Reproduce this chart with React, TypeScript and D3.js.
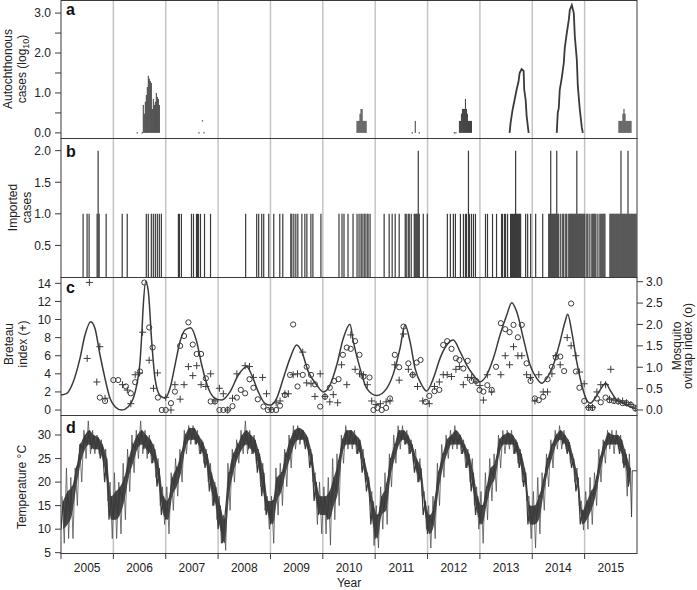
import React from "react";
import * as d3 from "d3";

// ---------------- data ----------------
const yearLabels = ["2005", "2006", "2007", "2008", "2009", "2010", "2011", "2012", "2013", "2014", "2015"];

// Panel a: autochthonous cases, log10, by week since 2005-01-01
const autoBars: [number, number][] = [
  [82, 0.7], [83, 0.48], [84, 0.78], [85, 0.95], [86, 1.15], [87, 1.43], [88, 1.36], [89, 1.3], [90, 1.25],
  [91, 0.6], [92, 0.85], [93, 0.7], [94, 0.78], [95, 1.0], [96, 0.9], [97, 0.85], [98, 0.7],
  [295, 0.3], [296, 0.3], [297, 0.3], [298, 0.48], [299, 0.6], [300, 0.6], [301, 0.3], [302, 0.3], [303, 0.3], [304, 0.3],
  [353, 0.3],
  [397, 0.3], [398, 0.3], [399, 0.48], [400, 0.6], [401, 0.6], [402, 0.6], [403, 0.85], [404, 0.6], [405, 0.48],
  [406, 0.3], [407, 0.3], [408, 0.3], [409, 0.3],
  [556, 0.3], [557, 0.3], [558, 0.3], [559, 0.3], [560, 0.48], [561, 0.6], [562, 0.48], [563, 0.3], [564, 0.3],
  [565, 0.3], [566, 0.3], [567, 0.3], [568, 0.3],
];
const autoDots: [number, number][] = [
  [76, 0], [81, 0], [137.5, 0], [141, 0.3], [142.5, 0], [350, 0], [357, 0], [392, 0], [393.5, 0],
];
const autoPeak2013: [number, number][] = [
  [447, 0], [448, 0.25], [450, 0.58], [452, 0.83], [454, 1.08], [456, 1.3], [457, 1.5], [459, 1.6],
  [461, 1.55], [461.6, 1.08], [463, 0.83], [464, 0.42], [466, 0],
];
const autoPeak2014: [number, number][] = [
  [494, 0], [495, 0.5], [496, 0.62], [497, 1.08], [499, 1.38], [501, 1.75], [502, 2.13], [504, 2.5],
  [506, 2.83], [507, 3.08], [509, 3.2], [511, 3.0], [512, 2.42], [514, 1.83], [515, 1.17], [517, 0.58],
  [519, 0.13], [520, 0],
];

// Panel b: imported cases by week since 2005-01-01
const importedOne: number[] = [
  22, 26, 28, 36, 38, 45, 61, 66, 85, 87, 90, 92, 94, 96, 98, 100, 117, 118, 120, 130, 132, 135, 136, 137, 139, 143, 149,
  184, 195, 197, 200, 202, 207, 212, 218, 221, 229, 230, 232, 234, 236, 240, 243, 245, 249, 251, 259,
  277, 280, 282, 286, 291, 295, 297, 299, 300, 302, 303, 305, 306, 308, 322, 327, 330, 333, 337,
  343, 344, 346, 347, 349, 352, 353, 354, 355, 357, 361, 365, 385, 388, 391, 393, 398, 401, 403, 404,
  407, 409, 411, 413, 423, 425, 430, 434, 439, 440, 442, 443, 445, 448, 449, 450, 451, 452, 454, 455,
  456, 457, 458, 463, 465, 468, 473, 480, 486, 487, 489, 490, 491, 492, 493, 495, 496, 498, 500, 501,
  503, 504, 506, 507, 508, 509, 510, 511, 512, 513, 515, 516, 517, 518, 519, 520, 521, 522, 524, 525,
  527, 529, 530, 531, 532, 533, 535, 537, 538, 539, 540, 541, 542, 547, 548, 549, 550, 551, 552, 553,
  554, 555, 556, 557, 559, 560, 561, 562, 563, 564, 566, 567, 568, 569, 570, 571, 572, 573,
];
const importedTwo: number[] = [37, 356, 406, 453, 488, 494, 514, 558, 565];

// Panel c: month index since Jan 2005
const breteau: [number, number][] = [
  [6.0, 5.7], [6.5, 14.1], [8.2, 3.1], [8.9, 7.0], [10.1, 1.3], [14.1, 2.8], [15.2, 2.2], [16.0, 0.7],
  [17.0, 3.9], [18.0, 4.1], [18.7, 8.6], [20.2, 5.5], [21.2, 2.4], [22.1, 4.1], [24.0, 1.4], [25.2, 0.0],
  [26.1, 2.8], [27.3, 1.2], [28.2, 2.8], [29.2, 4.8], [30.2, 3.8], [31.1, 4.9], [32.1, 2.8], [33.2, 2.6],
  [34.3, 4.0], [35.3, 1.0], [36.3, 2.4], [37.2, 1.8], [38.2, 0.0], [39.3, 1.3], [40.3, 4.0], [42.2, 4.9],
  [43.2, 4.8], [44.1, 3.6], [46.2, 3.6], [47.1, 1.8], [48.1, 0.1], [49.3, 0.8], [50.2, 1.0], [51.3, 1.8],
  [52.1, 1.8], [53.2, 3.9], [54.2, 4.0], [55.4, 6.4], [56.3, 3.0], [57.3, 2.9], [58.2, 1.5], [59.4, 4.0],
  [60.5, 1.5], [61.6, 0.9], [62.4, 1.7], [63.4, 0.8], [64.3, 5.0], [65.5, 2.8], [66.4, 8.3], [67.4, 4.5],
  [68.4, 4.0], [69.3, 3.9], [70.2, 2.8], [71.2, 1.0], [72.2, 0.6], [73.2, 0.7], [74.5, 0.9], [75.4, 1.0],
  [76.5, 5.0], [77.5, 3.3], [78.5, 8.4], [79.6, 4.5], [80.6, 3.9], [81.7, 2.6], [82.9, 1.0], [84.4, 0.7],
  [85.6, 2.6], [86.7, 3.1], [87.6, 3.9], [88.5, 3.9], [89.5, 3.7], [90.5, 4.5], [91.3, 4.8], [92.2, 2.8],
  [93.2, 3.6], [94.1, 3.6], [95.1, 3.1], [96.0, 2.7], [96.8, 1.1], [97.7, 3.9], [98.7, 2.0], [100.8, 3.9],
  [101.8, 6.0], [102.8, 5.0], [103.7, 7.0], [104.7, 6.0], [105.6, 6.0], [106.7, 3.9], [107.6, 3.6],
  [108.6, 1.0], [109.5, 3.9], [110.5, 2.0], [111.5, 2.0], [112.5, 4.0], [113.4, 6.0], [114.4, 5.0],
  [116.0, 8.0], [116.9, 7.1], [118.0, 6.0], [118.8, 4.2], [119.9, 2.9], [120.9, 0.3], [121.8, 0.3],
  [122.8, 2.0], [123.7, 2.8], [124.8, 2.8], [125.7, 1.2], [126.0, 4.5], [126.7, 1.1], [127.7, 1.0],
  [128.7, 1.0], [129.6, 0.8], [130.6, 0.6], [131.6, 0.2],
];
const ovitrap: [number, number][] = [
  [8.9, 0.29], [10.1, 0.21], [12.0, 0.7], [13.1, 0.7], [14.9, 0.55], [16.0, 0.39], [17.0, 0.65], [18.1, 0.9],
  [19.1, 2.98], [20.2, 1.93], [21.0, 1.46], [22.2, 0.29], [23.1, 0.0], [24.0, 0.0], [25.2, 0.16], [26.1, 0.43],
  [27.3, 1.5], [28.2, 1.73], [29.2, 2.05], [30.2, 1.53], [31.1, 1.31], [32.1, 1.31], [33.2, 0.74], [34.3, 0.2],
  [35.3, 0.2], [36.3, 0.0], [37.2, 0.0], [38.2, 0.0], [39.3, 0.09], [40.3, 0.29], [41.2, 0.47], [42.2, 0.39],
  [43.2, 0.72], [44.1, 0.52], [45.1, 0.25], [46.4, 0.08], [47.4, 0.0], [48.3, 0.0], [49.3, 0.0], [50.2, 0.1],
  [51.3, 0.35], [52.5, 0.82], [53.2, 2.0], [54.2, 0.55], [55.4, 0.82], [56.3, 1.01], [57.3, 0.82], [58.2, 0.6],
  [59.4, 0.08], [60.5, 0.31], [61.6, 0.52], [62.6, 0.68], [63.6, 0.72], [64.6, 1.29], [65.5, 1.46], [66.4, 1.43],
  [67.4, 1.61], [68.4, 1.29], [69.3, 0.78], [70.7, 0.76], [71.6, 0.0], [72.5, 0.05], [73.5, 0.0], [74.5, 0.05],
  [75.4, 0.27], [76.5, 1.29], [77.5, 1.0], [78.5, 1.95], [79.6, 1.09], [80.6, 0.82], [81.5, 1.11], [82.4, 1.17],
  [83.6, 0.19], [84.4, 0.33], [85.6, 0.44], [86.7, 0.47], [87.6, 1.52], [88.5, 1.61], [89.5, 1.43], [90.5, 1.21],
  [91.3, 1.17], [92.2, 0.97], [93.2, 1.15], [94.1, 0.68], [95.1, 0.68], [95.9, 0.47], [96.8, 0.43], [97.7, 0.58],
  [98.7, 0.47], [99.7, 1.01], [100.8, 2.03], [101.8, 1.89], [102.8, 1.82], [103.7, 1.99], [104.7, 1.7],
  [105.6, 1.99], [106.7, 1.09], [107.6, 0.68], [108.6, 0.27], [109.5, 0.23], [110.5, 0.31], [111.5, 0.72],
  [112.5, 1.01], [113.4, 1.23], [114.4, 1.25], [115.3, 0.91], [116.9, 2.49], [118.0, 0.9], [118.8, 0.52],
  [119.9, 0.21], [120.9, 0.05], [121.8, 0.05], [122.8, 0.27], [123.7, 0.18], [124.8, 0.29], [125.7, 0.23],
  [126.7, 0.21], [127.7, 0.2], [128.7, 0.16], [129.6, 0.16], [130.6, 0.12], [131.6, 0.04],
];
const breteauFit: [number, number][] = [
  [0, 1.66], [1.31, 1.84], [2.82, 3.13], [4.35, 5.71], [5.5, 8.29], [6.81, 9.76], [7.79, 9.02], [8.94, 6.08],
  [10.08, 3.5], [11.23, 1.29], [12.38, 0.37], [13.91, 0.0], [15.42, 0.37], [16.57, 1.29], [17.35, 2.76],
  [18.11, 5.34], [18.5, 8.29], [18.86, 11.6], [19.41, 14.2], [20.01, 13.1], [20.79, 7.55], [21.54, 3.5],
  [22.69, 1.6], [23.83, 1.3], [24.98, 2.4], [26.13, 4.97], [27.27, 7.55], [28.42, 8.84], [29.72, 9.1],
  [31.1, 7.55], [32.25, 4.97], [33.76, 2.4], [35.29, 1.29], [36.83, 1.1], [38.73, 2.0], [40.63, 3.87],
  [42.56, 4.79], [43.71, 3.87], [45.22, 2.0], [46.75, 0.74], [47.9, 0.55], [49.43, 1.29], [50.95, 3.5],
  [52.48, 5.71], [54.02, 7.18], [55.16, 6.45], [56.68, 4.24], [58.6, 2.76], [60.11, 2.0], [61.65, 2.76],
  [63.19, 4.97], [64.7, 7.92], [66.23, 9.47], [66.99, 7.55], [68.53, 4.6], [70.06, 2.4], [72.35, 1.6],
  [74.65, 2.4], [76.55, 4.6], [77.69, 6.82], [78.84, 9.4], [79.99, 7.55], [81.13, 4.6], [82.67, 2.76],
  [83.81, 2.1], [85.33, 3.5], [86.86, 5.71], [88.4, 7.18], [89.91, 7.73], [91.45, 6.45], [92.98, 4.97],
  [94.49, 3.87], [96.03, 3.13], [97.56, 3.87], [99.08, 5.71], [100.61, 8.29], [102.15, 10.5], [103.29, 11.86],
  [104.44, 10.86], [105.95, 7.92], [107.49, 4.97], [109.02, 3.5], [110.17, 2.95], [111.31, 3.5], [112.83, 4.97],
  [114.36, 7.55], [115.51, 9.76], [116.13, 10.57], [117.04, 8.66], [118.19, 5.34], [119.34, 2.76],
  [120.48, 1.1], [121.24, 0.74], [122.39, 1.29], [123.53, 2.2], [124.84, 2.95], [125.82, 2.2], [127.36, 1.1],
  [128.87, 0.74], [130.41, 0.37], [131.55, 0.18],
];

// Panel d: monthly extremes of daily temperature, Jan 2005 - Nov 2015
const tempLow: number[] = [
  7, 8, 8, 15, 20, 25, 26, 26, 26, 24, 16, 8,
  8, 9, 12, 18, 22, 25, 26, 25, 24, 21, 15, 11,
  9, 14, 17, 20, 26, 28, 28, 26, 24, 20, 15, 12,
  7, 5.5, 14, 20, 24, 26, 26, 26, 24, 19, 14, 10,
  7, 13, 15, 19, 23, 27, 28, 28, 26, 20, 11, 9,
  9, 6.6, 12, 15, 24, 27, 27, 26, 25, 20, 16, 6.5,
  6, 10, 11, 19, 24, 27, 28, 26, 24, 20, 17, 10,
  6, 8, 15, 21, 25, 27, 27, 26, 23, 20, 15, 10,
  7, 12, 16, 18, 23, 26, 27, 26, 24, 20, 16, 8,
  6, 9, 14, 19, 23, 27, 27, 27, 24, 20, 15, 9.8,
  10, 11, 15, 20, 24, 27, 26, 27, 24, 17, 12.6,
];
const tempHigh: number[] = [
  17, 23, 21, 23, 28, 31, 33, 31, 30, 29, 27, 20,
  22, 20, 24, 27, 30, 31, 33, 31, 30, 28, 25, 19,
  19, 22, 25, 27, 31, 32, 32, 31, 29, 27, 24, 20,
  17, 13, 24, 27, 29, 31, 33, 31, 30, 27, 24, 17,
  17, 23, 24, 27, 30, 32, 32, 31, 30, 27, 22, 20,
  19, 21, 25, 26, 30, 32, 31, 31, 29, 27, 22, 18,
  15, 19, 22, 26, 30, 32, 32, 31, 29, 27, 25, 18,
  15, 17, 24, 28, 30, 31, 32, 30, 29, 27, 25, 19,
  18, 22, 25, 26, 30, 31, 31, 31, 29, 27, 23, 17,
  18, 21, 22, 26, 29, 31, 32, 31, 29, 26, 23, 16,
  18, 21, 22, 27, 29, 31, 31, 31, 30, 27, 26,
];
// typical (core) daily range per month
const tempBandLo: number[] = [
  10, 11, 13, 19, 24, 27, 28, 27, 27, 25, 20, 12,
  12, 13, 16, 21, 24, 27, 28, 27, 26, 24, 19, 13,
  12, 17, 19, 22, 27, 29, 29, 28, 26, 23, 18, 15,
  10, 7, 17, 22, 25, 27, 28, 27, 26, 22, 17, 13,
  11, 16, 18, 22, 25, 28, 29, 29, 27, 23, 16, 13,
  13, 12, 15, 18, 26, 28, 28, 28, 26, 22, 18, 11,
  8, 13, 14, 21, 25, 28, 29, 28, 26, 22, 20, 13,
  9, 11, 18, 23, 26, 28, 28, 28, 26, 23, 18, 13,
  11, 15, 19, 21, 26, 28, 28, 28, 26, 23, 19, 11,
  11, 12, 17, 22, 25, 28, 29, 28, 26, 23, 18, 11,
  12, 14, 17, 22, 26, 28, 28, 28, 26, 23, 19,
];
const tempBandHi: number[] = [
  16, 18, 19, 23, 28, 30, 31, 30, 29.5, 28, 25, 17,
  18, 19, 21, 25, 28, 30, 31, 30, 29, 27, 23, 17,
  16, 21, 23, 26, 30, 31.5, 31.5, 30, 28.5, 26, 22, 19,
  15, 12, 22, 26, 28, 30, 31, 30, 29, 26, 22, 16,
  16, 21, 22, 26, 29, 31, 31.5, 31, 29.5, 26, 20, 17,
  17, 18, 21, 24, 29, 31, 31, 30, 29, 25, 21, 16,
  13, 17, 19, 25, 28, 31, 31, 30, 28, 25, 23, 16,
  13, 15, 22, 26, 29, 30, 31, 30, 28, 26, 22, 17,
  15, 19, 23, 24, 29, 30, 30.5, 30, 28.5, 26, 22, 15,
  15, 17, 20, 25, 28, 30, 31, 30, 28.5, 25, 21, 14,
  16, 18, 20, 25, 28.5, 30.5, 30, 30, 29, 26, 23,
];
const tempTail: [number, number][] = [[130.9, 22.4], [132, 22.4]];

const ticksA = [0, 0.5, 1, 1.5, 2, 2.5, 3];
const ticksB = [0.5, 1, 1.5, 2];
const ticksC = [0, 2, 4, 6, 8, 10, 12, 14];
const ticksC2 = [0, 0.5, 1, 1.5, 2, 2.5, 3];
const ticksD = [5, 10, 15, 20, 25, 30];

// ---------------- layout ----------------
const L = 61;
const R = 637;
const PA = [0, 138];
const PB = [138, 277];
const PC = [277, 415];
const PD = [415, 553];
const INK = "#3a3a3a";
const FONT = '"Liberation Sans", Arial, Helvetica, sans-serif';

const weekToMonth = (w: number) => (w * 7 * 12) / 365.25;

export default function App() {
  const x = d3.scaleLinear().domain([0, 132]).range([L, R]);
  const yA = d3.scaleLinear().domain([-0.128, 3.328]).range([PA[1], PA[0]]);
  const yB = d3.scaleLinear().domain([0, 2.2]).range([PB[1], PB[0]]);
  const yC = d3.scaleLinear().domain([-0.55, 14.7]).range([PC[1], PC[0]]);
  const yC2 = d3.scaleLinear().domain([-0.117, 3.11]).range([PC[1], PC[0]]);
  const yD = d3.scaleLinear().domain([4.94, 34.25]).range([PD[1], PD[0]]);

  const xw = (w: number) => x(weekToMonth(w));
  const yearStarts = d3.range(0, 121, 12);
  const gridMonths = d3.range(12, 121, 12);

  const panels = [PA, PB, PC, PD];

  const peakLine = d3
    .line<[number, number]>()
    .x((d) => xw(d[0]))
    .y((d) => yA(d[1]));

  const fitLine = d3
    .line<[number, number]>()
    .x((d) => x(d[0]))
    .y((d) => yC(d[1]))
    .curve(d3.curveMonotoneX);

  // extremes: zigzag through monthly highs and lows
  const tempPts: [number, number][] = [];
  tempLow.forEach((lo, i) => {
    tempPts.push([i + 0.25, tempHigh[i]]);
    tempPts.push([i + 0.75, lo]);
  });
  // core band: zigzag through monthly typical range
  const bandPts: [number, number][] = [];
  tempBandLo.forEach((lo, i) => {
    bandPts.push([i + 0.0, lo]);
    bandPts.push([i + 0.5, tempBandHi[i]]);
  });
  const tempLine = d3
    .line<[number, number]>()
    .x((d) => x(d[0]))
    .y((d) => yD(d[1]));
  const tempArea = d3
    .area<number>()
    .x((_, i) => x(i + 0.5))
    .y0((_, i) => yD(tempBandLo[i]))
    .y1((d) => yD(d))
    .curve(d3.curveMonotoneX);

  const fmt1 = d3.format(".1f");

  const leftTicks = (
    ticks: number[],
    scale: d3.ScaleLinear<number, number>,
    labelFn: (v: number) => string | null,
    key: string
  ) =>
    ticks.map((t) => {
      const yy = scale(t);
      const lab = labelFn(t);
      return (
        <g key={key + t}>
          <line x1={L - 6} x2={L} y1={yy} y2={yy} stroke={INK} strokeWidth={1} />
          {lab !== null && (
            <text x={L - 10} y={yy} dy="0.36em" textAnchor="end" fontSize={12} fill="#222">
              {lab}
            </text>
          )}
        </g>
      );
    });

  const last = tempPts[tempPts.length - 1];

  return (
    <svg
      width={697}
      height={590}
      style={{ position: "absolute", left: 0, top: 0, fontFamily: FONT, background: "#fff" }}
    >
      <defs>
        {panels.map((p, i) => (
          <clipPath id={"clip" + i} key={i}>
            <rect x={L} y={p[0]} width={R - L} height={p[1] - p[0]} />
          </clipPath>
        ))}
      </defs>
      <rect x={0} y={0} width={697} height={590} fill="#fff" />

      {/* year gridlines */}
      {gridMonths.map((m) => (
        <line key={"g" + m} x1={x(m)} x2={x(m)} y1={PA[0]} y2={PD[1]} stroke="#c4c4c4" strokeWidth={1.5} />
      ))}

      {/* Panel a */}
      <g clipPath="url(#clip0)">
        {autoBars.map(([w, v], i) => (
          <line key={"ab" + i} x1={xw(w)} x2={xw(w)} y1={yA(0)} y2={yA(v)} stroke={INK} strokeWidth={1} />
        ))}
        {autoDots.map(([w, v], i) => (
          <line key={"ad" + i} x1={xw(w) - 0.6} x2={xw(w) + 0.6} y1={yA(v)} y2={yA(v)} stroke={INK} strokeWidth={1.2} />
        ))}
        <path d={peakLine(autoPeak2013) || ""} fill="none" stroke={INK} strokeWidth={1.8} />
        <path d={peakLine(autoPeak2014) || ""} fill="none" stroke={INK} strokeWidth={1.8} />
      </g>

      {/* Panel b */}
      <g clipPath="url(#clip1)">
        {importedOne.map((w, i) => (
          <line key={"i1" + i} x1={xw(w)} x2={xw(w)} y1={yB(0)} y2={yB(1)} stroke={INK} strokeWidth={1.2} />
        ))}
        {importedTwo.map((w, i) => (
          <line key={"i2" + i} x1={xw(w)} x2={xw(w)} y1={yB(0)} y2={yB(2)} stroke={INK} strokeWidth={1.2} />
        ))}
      </g>

      {/* Panel c */}
      <g clipPath="url(#clip2)">
        <path d={fitLine(breteauFit) || ""} fill="none" stroke={INK} strokeWidth={1.5} />
        {breteau.map(([m, v], i) => (
          <path
            key={"bp" + i}
            d={`M${x(m) - 3.5},${yC(v)}H${x(m) + 3.5}M${x(m)},${yC(v) - 3.5}V${yC(v) + 3.5}`}
            stroke={INK}
            strokeWidth={1}
            fill="none"
          />
        ))}
        {ovitrap.map(([m, v], i) => (
          <circle key={"ov" + i} cx={x(m)} cy={yC2(v)} r={2.6} fill="none" stroke={INK} strokeWidth={1} />
        ))}
      </g>

      {/* Panel d */}
      <g clipPath="url(#clip3)">
        <path d={tempLine(tempPts) || ""} fill="none" stroke="#444" strokeWidth={0.8} strokeOpacity={0.9} />
        <path d={tempArea(tempBandHi) || ""} fill={INK} fillOpacity={0.9} stroke="none" />
        <path d={tempLine(bandPts) || ""} fill="none" stroke={INK} strokeWidth={1.2} />
        <path d={tempLine([[last[0], last[1]], ...tempTail]) || ""} fill="none" stroke={INK} strokeWidth={1} />
      </g>

      {/* frames */}
      {panels.map((p, i) => (
        <rect key={"f" + i} x={L} y={p[0] + 0.5} width={R - L} height={p[1] - p[0]} fill="none" stroke={INK} strokeWidth={1} />
      ))}

      {/* left axes */}
      {leftTicks(ticksA, yA, (v) => (Number.isInteger(v) ? fmt1(v) : null), "ta")}
      {leftTicks(ticksB, yB, (v) => fmt1(v), "tb")}
      {leftTicks(ticksC, yC, (v) => String(v), "tc")}
      {leftTicks(ticksD, yD, (v) => String(v), "td")}

      {/* right axis of panel c */}
      {ticksC2.map((t) => (
        <g key={"tr" + t}>
          <line x1={R} x2={R + 6} y1={yC2(t)} y2={yC2(t)} stroke={INK} strokeWidth={1} />
          <text x={R + 9} y={yC2(t)} dy="0.36em" fontSize={12} fill="#222">
            {fmt1(t)}
          </text>
        </g>
      ))}

      {/* bottom axis */}
      {yearStarts.map((m) => (
        <line key={"bt" + m} x1={x(m)} x2={x(m)} y1={PD[1]} y2={PD[1] + 6} stroke={INK} strokeWidth={1} />
      ))}
      {yearLabels.map((lab, i) => (
        <text key={"yl" + lab} x={x(i * 12 + 6)} y={572} textAnchor="middle" fontSize={12} fill="#222">
          {lab}
        </text>
      ))}
      <text x={(L + R) / 2} y={587} textAnchor="middle" fontSize={12} fill="#222">
        Year
      </text>

      {/* panel letters */}
      <text x={66} y={15} fontSize={16} fontWeight="bold" fill="#111">a</text>
      <text x={66} y={157} fontSize={16} fontWeight="bold" fill="#111">b</text>
      <text x={66} y={293} fontSize={16} fontWeight="bold" fill="#111">c</text>
      <text x={66} y={433} fontSize={16} fontWeight="bold" fill="#111">d</text>

      {/* axis titles */}
      <g fontSize={12} fill="#222" textAnchor="middle">
        <text transform={`translate(12,${(PA[0] + PA[1]) / 2}) rotate(-90)`}>Autochthonous</text>
        <text transform={`translate(26,${(PA[0] + PA[1]) / 2}) rotate(-90)`}>
          cases (log
          <tspan fontSize={9} dy={3}>10</tspan>
          <tspan dy={-3}>)</tspan>
        </text>
        <text transform={`translate(17,${(PB[0] + PB[1]) / 2}) rotate(-90)`}>Imported</text>
        <text transform={`translate(31,${(PB[0] + PB[1]) / 2}) rotate(-90)`}>cases</text>
        <text transform={`translate(13,${(PC[0] + PC[1]) / 2 - 2}) rotate(-90)`}>Breteau</text>
        <text transform={`translate(27,${(PC[0] + PC[1]) / 2 - 2}) rotate(-90)`}>index (+)</text>
        <text transform={`translate(26,${(PD[0] + PD[1]) / 2 + 3}) rotate(-90)`}>Temperature °C</text>
        <text transform={`translate(681,${(PC[0] + PC[1]) / 2}) rotate(-90)`}>Mosquito</text>
        <text transform={`translate(692,${(PC[0] + PC[1]) / 2}) rotate(-90)`}>ovitrap index (o)</text>
      </g>
    </svg>
  );
}
